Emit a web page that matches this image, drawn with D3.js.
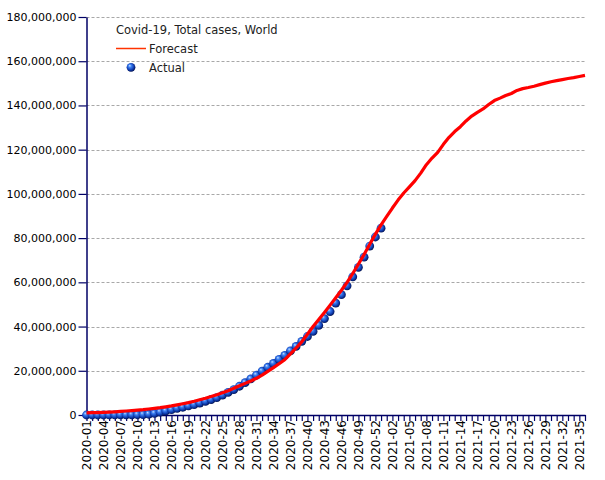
<!DOCTYPE html>
<html>
<head>
<meta charset="utf-8">
<script src="https://cdn.jsdelivr.net/npm/d3@7"></script>
<style>
  body { margin: 0; background: #fff; }
  svg { display: block; font-family: "DejaVu Sans", sans-serif; }
</style>
</head>
<body>
<svg id="chart" width="605" height="480"></svg>
<script>
// ---- DATA ----
const weeks2020 = ["2020-01","2020-02","2020-03","2020-04","2020-05","2020-06","2020-07","2020-08","2020-09","2020-10",
  "2020-11","2020-12","2020-13","2020-14","2020-15","2020-16","2020-17","2020-18","2020-19","2020-20",
  "2020-21","2020-22","2020-23","2020-24","2020-25","2020-26","2020-27","2020-28","2020-29","2020-30",
  "2020-31","2020-32","2020-33","2020-34","2020-35","2020-36","2020-37","2020-38","2020-39","2020-40",
  "2020-41","2020-42","2020-43","2020-44","2020-45","2020-46","2020-47","2020-48","2020-49","2020-50",
  "2020-51","2020-52","2020-53"];
const weeks2021 = ["2021-01","2021-02","2021-03","2021-04","2021-05","2021-06","2021-07","2021-08","2021-09","2021-10",
  "2021-11","2021-12","2021-13","2021-14","2021-15","2021-16","2021-17","2021-18","2021-19","2021-20",
  "2021-21","2021-22","2021-23","2021-24","2021-25","2021-26","2021-27","2021-28","2021-29","2021-30",
  "2021-31","2021-32","2021-33","2021-34","2021-35","2021-36"];
const weeks = weeks2020.concat(weeks2021);

// Forecast, total cases (millions), one value per week
const forecastM = [1.0,1.05,1.1,1.2,1.3,1.45,1.6,1.8,2.0,2.2,
  2.4,2.7,3.0,3.3,3.7,4.1,4.6,5.1,5.6,6.2,
  6.9,7.6,8.4,9.2,10.1,11.0,12.1,13.2,14.3,15.4,
  16.6,18.0,19.7,21.4,23.2,25.0,27.6,30.3,33.1,36.5,
  40.0,43.2,46.4,49.7,53.0,56.4,60.0,64.0,68.2,72.6,
  77.2,81.8,86.0,89.8,93.6,97.2,100.4,103.2,106.0,109.4,
  113.2,116.2,118.8,122.4,125.6,128.2,130.4,133.0,135.2,136.9,
  138.4,140.4,142.2,143.3,144.5,145.4,146.8,147.6,148.1,148.7,
  149.4,150.1,150.7,151.2,151.7,152.2,152.6,153.1,153.6];

// Actual, total cases (millions), 2020-01 .. 2020-53
const actualM = [0,0,0.0003,0.002,0.017,0.04,0.07,0.078,0.088,0.11,
  0.17,0.34,0.72,1.27,1.85,2.4,3.0,3.5,4.1,4.7,
  5.4,6.2,7.0,7.9,9.0,10.2,11.5,13.0,14.6,16.3,
  18.0,19.8,21.6,23.3,25.2,27.0,29.0,31.0,33.3,35.5,
  37.8,40.5,43.6,46.8,50.6,54.4,58.4,62.5,66.8,71.4,
  76.4,80.5,84.5];

const yTicks = [0,20000000,40000000,60000000,80000000,100000000,120000000,140000000,160000000,180000000];
const titleText = "Covid-19, Total cases, World";
const seriesNames = ["Forecast","Actual"];

// ---- CHART ----
const svg = d3.select("#chart");
const plot = {left: 86.5, right: 585, top: 17, bottom: 415};
const axisColor = "#000066";

const x = d3.scalePoint().domain(weeks).range([plot.left, plot.right]);
const y = d3.scaleLinear().domain([0, 180000000]).range([plot.bottom, plot.top]);

// sphere gradient
const defs = svg.append("defs");
const grad = defs.append("radialGradient").attr("id","ball")
  .attr("cx","45%").attr("cy","45%").attr("r","60%").attr("fx","35%").attr("fy","30%");
grad.append("stop").attr("offset","0%").attr("stop-color","#c0dcff");
grad.append("stop").attr("offset","30%").attr("stop-color","#3d80f2");
grad.append("stop").attr("offset","68%").attr("stop-color","#0f3cb0");
grad.append("stop").attr("offset","100%").attr("stop-color","#000a40");

// gridlines
svg.append("g").selectAll("line").data(yTicks.filter(d => d > 0)).join("line")
  .attr("x1", plot.left).attr("x2", plot.right)
  .attr("y1", d => Math.round(y(d)) + 0.5).attr("y2", d => Math.round(y(d)) + 0.5)
  .attr("stroke", "#a8a8a8").attr("stroke-width", 1).attr("stroke-dasharray", "3,2");

// y axis
const yAxis = svg.append("g").attr("transform", `translate(${plot.left},0)`)
  .call(d3.axisLeft(y).tickValues(yTicks).tickSize(8).tickSizeOuter(0).tickFormat(d3.format(",")));
yAxis.select(".domain").attr("stroke", axisColor).attr("stroke-width", 1.5);
yAxis.selectAll(".tick line").attr("stroke", axisColor).attr("stroke-width", 1.2);
yAxis.selectAll("text").attr("font-size", 11).attr("fill", "#000").attr("x", -10)
  .attr("font-family", "DejaVu Sans");

// x axis
const xAxis = svg.append("g").attr("transform", `translate(0,${plot.bottom})`)
  .call(d3.axisBottom(x).tickSize(6).tickSizeOuter(0)
    .tickFormat((d, i) => (i % 3 === 0 ? d : "")));
xAxis.select(".domain").attr("stroke", axisColor).attr("stroke-width", 1.5);
xAxis.selectAll(".tick line").attr("stroke", axisColor).attr("stroke-width", 1.2);
xAxis.selectAll("text")
  .attr("font-size", 12).attr("fill", "#000").attr("font-family", "DejaVu Sans")
  .attr("transform", "rotate(-90)")
  .attr("text-anchor", "end")
  .attr("x", -5).attr("y", 0).attr("dy", "0.36em");

// actual points
svg.append("g").selectAll("circle").data(actualM).join("circle")
  .attr("cx", (d, i) => x(weeks[i]))
  .attr("cy", d => y(d * 1e6))
  .attr("r", 4.4)
  .attr("fill", "url(#ball)");

// forecast line
const line = d3.line().x((d, i) => x(weeks[i])).y(d => y(d * 1e6));
svg.append("path").datum(forecastM)
  .attr("d", line)
  .attr("fill", "none").attr("stroke", "#ff0000").attr("stroke-width", 3.2)
  .attr("stroke-linejoin", "round");

// legend
const lg = svg.append("g");
lg.append("text").attr("x", 116).attr("y", 34).text(titleText)
  .attr("font-size", 11.5).attr("fill", "#222");
lg.append("line").attr("x1", 116).attr("x2", 146).attr("y1", 48.5).attr("y2", 48.5)
  .attr("stroke", "#ff3300").attr("stroke-width", 1.5);
lg.append("text").attr("x", 149).attr("y", 53).text(seriesNames[0])
  .attr("font-size", 11.5).attr("fill", "#222");
lg.append("circle").attr("cx", 131).attr("cy", 67.3).attr("r", 4.4).attr("fill", "url(#ball)");
lg.append("text").attr("x", 149).attr("y", 71.5).text(seriesNames[1])
  .attr("font-size", 11.5).attr("fill", "#222");
</script>
</body>
</html>
